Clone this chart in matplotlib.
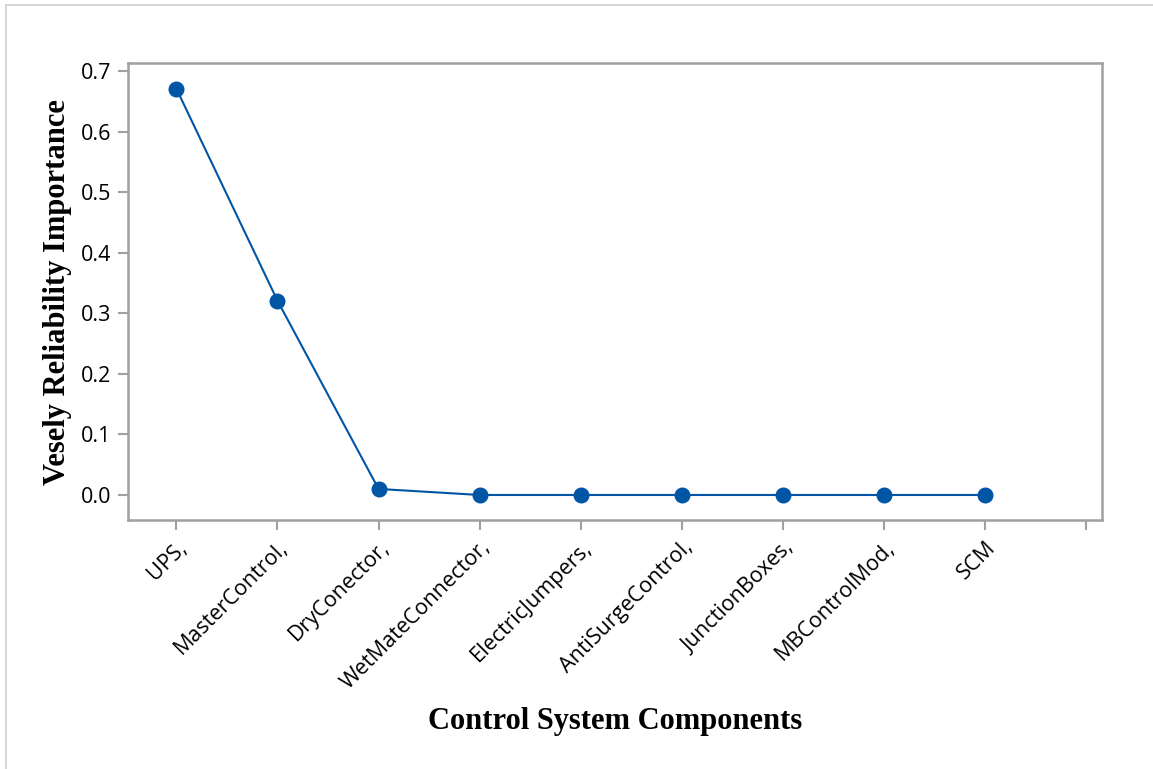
import numpy as np
import matplotlib.pyplot as plt
from matplotlib.lines import Line2D

# Data #
components = ['UPS,', 'MasterControl,', 'DryConector,', 'WetMateConnector,', 'ElectricJumpers,',
              'AntiSurgeControl,', 'JunctionBoxes,', 'MBControlMod,', 'SCM']
importance = [0.671, 0.321, 0.010, 0.0, 0.0, 0.0, 0.0, 0.0, 0.0]

line_color = '#0055A5'
spine_color = '#A0A0A0'

fig = plt.figure(figsize=(11.53, 7.69), dpi=100)
ax = fig.add_axes([128 / 1153, 1 - 520 / 769, (1102 - 128) / 1153, (520 - 63) / 769])

x = np.arange(len(components))
ax.plot(x, importance, '-', color=line_color, lw=1.5, marker='o', ms=10.5, mfc=line_color, mec=line_color)

# Axes limits and ticks #
ax.set_xlim(-0.478, 9.156)
ax.set_ylim(-0.0413, 0.7132)
ax.set_xticks(np.arange(len(components) + 1))
ax.set_xticklabels(components + [''], rotation=45, ha='right', rotation_mode='anchor',
                   fontsize=15.5, family='Open Sans')
ax.set_yticks(np.arange(0, 0.71, 0.1))
ax.set_yticklabels(['%.1f' % v for v in np.arange(0, 0.71, 0.1)], fontsize=15.5, family='Open Sans')
ax.tick_params(axis='both', direction='out', color=spine_color, width=1.5, length=7, pad=5)

for s in ax.spines.values():
    s.set_color(spine_color)
    s.set_linewidth(1.8)

# Labels #
ax.set_xlabel('Control System Components', fontsize=22, fontweight='bold', family='Liberation Serif')
ax.xaxis.set_label_coords(0.5, -0.442)
ax.xaxis.label.set_va('center')
ax.set_ylabel('Vesely Reliability Importance', fontsize=22, fontweight='bold', family='Liberation Serif')
ax.yaxis.set_label_coords(-0.0719, 0.499)
ax.yaxis.label.set_va('center')

# Light outer frame (top and left) #
fig.add_artist(Line2D([6 / 1153, 1], [1 - 5 / 769, 1 - 5 / 769], color='#D0D0D0', lw=1.2,
                      transform=fig.transFigure))
fig.add_artist(Line2D([6 / 1153, 6 / 1153], [0, 1 - 5 / 769], color='#D0D0D0', lw=1.2,
                      transform=fig.transFigure))

fig.savefig('out.png', dpi=100)
